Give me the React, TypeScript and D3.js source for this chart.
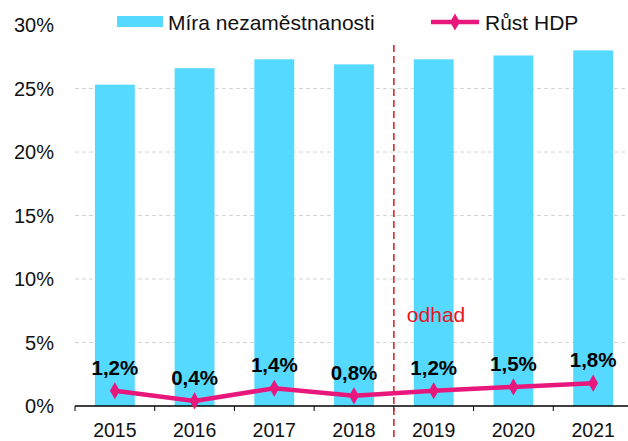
import React from 'react';
import * as d3 from 'd3';

const years = ['2015', '2016', '2017', '2018', '2019', '2020', '2021'];
const unemployment = [25.3, 26.6, 27.3, 26.9, 27.3, 27.6, 28.0];
const gdpGrowth = [1.2, 0.4, 1.4, 0.8, 1.2, 1.5, 1.8];
const yTicks = [0, 5, 10, 15, 20, 25, 30];
const forecastFrom = '2019';

const W = 628;
const H = 441;
const margin = { top: 25, right: -5, bottom: 35, left: 75 };
const font = "'Liberation Sans', Arial, sans-serif";
const barColor = '#55d9ff';
const lineColor = '#e8177b';

const fmt = (v: number) => v.toFixed(1).replace('.', ',') + '%';

export default function App() {
  const x = d3.scaleBand<string>()
    .domain(years)
    .range([margin.left, W - margin.right])
    .paddingInner(0.5)
    .paddingOuter(0.25);
  const xBand = d3.scaleBand<string>().domain(years).range([margin.left, W - margin.right]);
  const y = d3.scaleLinear().domain([0, 30]).range([H - margin.bottom, margin.top]);

  const cx = (i: number) => (xBand(years[i]) as number) + xBand.bandwidth() / 2;
  const line = d3.line<number>().x((_, i) => cx(i)).y(d => y(d));
  const diamond = d3.symbol().type(d3.symbolDiamond).size(85)();
  const divider = xBand(forecastFrom) as number;

  return (
    <svg width={W} height={H} style={{ position: 'absolute', left: 0, top: 0, background: '#fff' }} fontFamily={font}>
      {/* grid */}
      {yTicks.filter(t => t > 0 && t < 30).map(t => (
        <line key={t} x1={margin.left} x2={W} y1={y(t)} y2={y(t)} stroke="#d4d4d4" strokeDasharray="4,3" />
      ))}
      {/* y labels */}
      {yTicks.map(t => (
        <text key={t} x={54} y={y(t)} dy="0.36em" textAnchor="end" fontSize={20} fill="#111">{t}%</text>
      ))}
      {/* bars */}
      {years.map((yr, i) => (
        <rect key={yr} x={x(yr)} width={x.bandwidth()} y={y(unemployment[i])}
          height={y(0) - y(unemployment[i])} fill={barColor} />
      ))}
      {/* x axis */}
      <line x1={margin.left} x2={W} y1={y(0)} y2={y(0)} stroke="#000" strokeWidth={1.3} />
      {years.map(yr => (
        <line key={yr} x1={xBand(yr)} x2={xBand(yr)} y1={y(0)} y2={y(0) + 5} stroke="#000" />
      ))}
      {years.map((yr, i) => (
        <text key={yr} x={cx(i)} y={y(0) + 31} textAnchor="middle" fontSize={19.5} fill="#111">{yr}</text>
      ))}
      {/* forecast divider */}
      <line x1={divider} x2={divider} y1={45} y2={H} stroke="#e8141b" strokeWidth={1.5} strokeDasharray="7,4" />
      <text x={divider + 13} y={y(0) - 84} fontSize={21} fill="#e8141b">odhad</text>
      {/* line */}
      <path d={line(gdpGrowth) || ''} fill="none" stroke={lineColor} strokeWidth={4.5} />
      {gdpGrowth.map((v, i) => (
        <path key={i} d={diamond || ''} transform={`translate(${cx(i)},${y(v)})`} fill={lineColor} />
      ))}
      {gdpGrowth.map((v, i) => (
        <text key={i} x={cx(i)} y={y(v) - 16} textAnchor="middle" fontSize={20.5} fontWeight="bold" fill="#000">{fmt(v)}</text>
      ))}
      {/* legend */}
      <rect x={117} y={16} width={46} height={11} fill={barColor} />
      <text x={168} y={22} dy="0.36em" fontSize={21} fill="#111">Míra nezaměstnanosti</text>
      <line x1={431} x2={479} y1={22} y2={22} stroke={lineColor} strokeWidth={4.5} />
      <path d={diamond || ''} transform="translate(455,22)" fill={lineColor} />
      <text x={485} y={22} dy="0.36em" fontSize={21} fill="#111">Růst HDP</text>
    </svg>
  );
}
